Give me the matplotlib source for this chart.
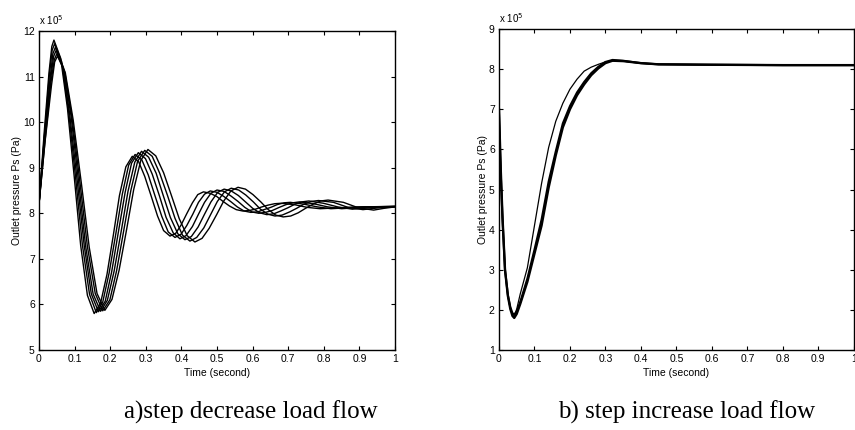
import numpy as np
import matplotlib.pyplot as plt

# ---- data (pressure in units of 1e5 Pa) ----
# a) step decrease load flow: six responses, (time, value) points along each curve
dec_t = [
    [0, 0.014, 0.028, 0.036, 0.042, 0.061, 0.080, 0.099, 0.117, 0.136, 0.155, 0.173, 0.191, 0.209, 0.226, 0.244,
     0.262, 0.280, 0.297, 0.315, 0.333, 0.350, 0.368, 0.384, 0.399, 0.415, 0.431, 0.446, 0.462, 0.480, 0.499,
     0.517, 0.535, 0.554, 0.572, 0.590, 0.608, 0.626, 0.644, 0.662, 0.680, 0.717, 0.753, 0.790, 0.895, 1.0],
    [0, 0.015, 0.029, 0.037, 0.044, 0.064, 0.083, 0.103, 0.122, 0.142, 0.161, 0.179, 0.197, 0.216, 0.234, 0.252,
     0.270, 0.289, 0.307, 0.326, 0.345, 0.363, 0.382, 0.399, 0.415, 0.432, 0.448, 0.465, 0.481, 0.500, 0.519,
     0.538, 0.557, 0.576, 0.595, 0.614, 0.632, 0.651, 0.669, 0.688, 0.706, 0.744, 0.782, 0.820, 0.910, 1.0],
    [0, 0.015, 0.031, 0.039, 0.046, 0.066, 0.086, 0.107, 0.127, 0.147, 0.167, 0.186, 0.204, 0.223, 0.242, 0.260,
     0.279, 0.299, 0.318, 0.338, 0.357, 0.377, 0.396, 0.413, 0.431, 0.448, 0.465, 0.483, 0.500, 0.520, 0.539,
     0.559, 0.578, 0.598, 0.617, 0.636, 0.655, 0.675, 0.694, 0.713, 0.732, 0.771, 0.811, 0.850, 0.930, 1.0],
    [0, 0.016, 0.032, 0.041, 0.048, 0.069, 0.090, 0.111, 0.131, 0.152, 0.173, 0.192, 0.211, 0.231, 0.250, 0.269,
     0.288, 0.308, 0.329, 0.349, 0.369, 0.390, 0.410, 0.428, 0.447, 0.465, 0.483, 0.502, 0.520, 0.540, 0.560,
     0.580, 0.600, 0.620, 0.640, 0.660, 0.679, 0.699, 0.719, 0.738, 0.758, 0.799, 0.839, 0.880, 0.940, 1.0],
    [0, 0.017, 0.033, 0.043, 0.050, 0.072, 0.093, 0.115, 0.136, 0.158, 0.179, 0.199, 0.218, 0.238, 0.258, 0.277,
     0.297, 0.318, 0.339, 0.361, 0.382, 0.403, 0.424, 0.443, 0.463, 0.482, 0.501, 0.521, 0.540, 0.561, 0.581,
     0.602, 0.622, 0.643, 0.663, 0.683, 0.704, 0.724, 0.744, 0.765, 0.785, 0.827, 0.868, 0.910, 0.955, 1.0],
    [0, 0.017, 0.035, 0.044, 0.052, 0.074, 0.096, 0.119, 0.141, 0.163, 0.185, 0.205, 0.225, 0.246, 0.266, 0.286,
     0.306, 0.328, 0.350, 0.372, 0.394, 0.416, 0.438, 0.458, 0.478, 0.499, 0.519, 0.539, 0.559, 0.580, 0.601,
     0.623, 0.644, 0.665, 0.686, 0.707, 0.728, 0.749, 0.770, 0.791, 0.812, 0.855, 0.897, 0.940, 0.970, 1.0],
]
dec_p = [
    [8.20, 9.71, 11.08, 11.66, 11.80, 11.40, 10.30, 8.80, 7.30, 6.20, 5.80, 6.03, 6.66, 7.53, 8.39, 9.02,
     9.25, 9.13, 8.81, 8.38, 7.94, 7.62, 7.50, 7.56, 7.74, 7.99, 8.23, 8.41, 8.47, 8.44, 8.37,
     8.26, 8.16, 8.08, 8.05, 8.06, 8.09, 8.14, 8.18, 8.21, 8.22, 8.19, 8.13, 8.10, 8.14, 8.15],
    [8.20, 9.68, 11.02, 11.58, 11.72, 11.32, 10.25, 8.77, 7.30, 6.22, 5.82, 6.05, 6.69, 7.56, 8.42, 9.06,
     9.29, 9.17, 8.84, 8.38, 7.93, 7.59, 7.47, 7.54, 7.73, 7.98, 8.24, 8.42, 8.49, 8.46, 8.37,
     8.26, 8.14, 8.05, 8.02, 8.03, 8.08, 8.13, 8.19, 8.23, 8.24, 8.20, 8.14, 8.10, 8.14, 8.15],
    [8.20, 9.64, 10.95, 11.50, 11.64, 11.25, 10.19, 8.74, 7.29, 6.23, 5.84, 6.07, 6.71, 7.59, 8.46, 9.10,
     9.33, 9.20, 8.86, 8.39, 7.91, 7.57, 7.44, 7.51, 7.71, 7.98, 8.24, 8.44, 8.51, 8.48, 8.38,
     8.26, 8.13, 8.03, 8.00, 8.02, 8.06, 8.13, 8.19, 8.23, 8.25, 8.21, 8.14, 8.10, 8.14, 8.15],
    [8.20, 9.62, 10.90, 11.44, 11.57, 11.19, 10.14, 8.71, 7.28, 6.23, 5.85, 6.09, 6.73, 7.61, 8.48, 9.12,
     9.36, 9.23, 8.88, 8.39, 7.91, 7.55, 7.42, 7.49, 7.70, 7.98, 8.25, 8.46, 8.53, 8.49, 8.39,
     8.25, 8.11, 8.01, 7.97, 7.99, 8.05, 8.12, 8.20, 8.25, 8.27, 8.22, 8.14, 8.09, 8.13, 8.15],
    [8.20, 9.59, 10.84, 11.37, 11.50, 11.12, 10.09, 8.68, 7.27, 6.24, 5.86, 6.10, 6.74, 7.62, 8.50, 9.14,
     9.38, 9.25, 8.88, 8.39, 7.89, 7.52, 7.39, 7.47, 7.68, 7.97, 8.26, 8.47, 8.55, 8.51, 8.40,
     8.25, 8.09, 7.98, 7.94, 7.96, 8.03, 8.11, 8.20, 8.26, 8.28, 8.24, 8.13, 8.08, 8.12, 8.14],
    [8.20, 9.57, 10.80, 11.32, 11.45, 11.08, 10.05, 8.66, 7.26, 6.24, 5.87, 6.11, 6.75, 7.64, 8.52, 9.16,
     9.40, 9.26, 8.89, 8.39, 7.88, 7.51, 7.37, 7.45, 7.67, 7.97, 8.27, 8.49, 8.57, 8.53, 8.41,
     8.25, 8.08, 7.96, 7.92, 7.94, 8.01, 8.11, 8.20, 8.27, 8.29, 8.24, 8.12, 8.07, 8.11, 8.14],
]

# b) step increase load flow: one thin early curve and a thick pair
inc_t = [0, 0.005, 0.010, 0.017, 0.025, 0.032, 0.038, 0.043, 0.050, 0.060, 0.080, 0.100, 0.120, 0.140, 0.160,
         0.180, 0.200, 0.220, 0.240, 0.260, 0.280, 0.300, 0.320, 0.350, 0.400, 0.450, 0.600, 0.800, 1.0]
inc_thin = [7.00, 5.50, 4.30, 3.00, 2.35, 2.03, 1.88, 1.86, 2.02, 2.40, 3.05, 4.10, 5.15, 6.05, 6.70,
            7.15, 7.50, 7.75, 7.95, 8.05, 8.12, 8.18, 8.21, 8.20, 8.15, 8.12, 8.11, 8.10, 8.10]
inc_thick1 = [7.00, 5.50, 4.30, 3.00, 2.35, 2.02, 1.85, 1.80, 1.90, 2.15, 2.70, 3.40, 4.10, 5.05, 5.85,
              6.55, 7.00, 7.35, 7.62, 7.85, 8.02, 8.15, 8.21, 8.20, 8.15, 8.12, 8.11, 8.10, 8.10]
inc_thick2 = [6.90, 5.40, 4.25, 3.00, 2.38, 2.07, 1.92, 1.88, 1.96, 2.20, 2.78, 3.50, 4.25, 5.20, 5.95,
              6.65, 7.08, 7.42, 7.68, 7.90, 8.06, 8.18, 8.23, 8.21, 8.15, 8.12, 8.11, 8.10, 8.10]

x_ticks = np.round(np.arange(0, 1.01, 0.1), 1)
x_labels = ['0', '0.1', '0.2', '0.3', '0.4', '0.5', '0.6', '0.7', '0.8', '0.9', '1']

plt.rcParams['font.family'] = ['Liberation Sans', 'DejaVu Sans']
plt.rcParams['xtick.direction'] = 'in'
plt.rcParams['ytick.direction'] = 'in'
plt.rcParams['xtick.top'] = True
plt.rcParams['ytick.right'] = True

fig = plt.figure(figsize=(8.55, 4.3), dpi=100)
ax1 = fig.add_axes([0.0456, 0.186, 0.4164, 0.742])
ax2 = fig.add_axes([0.5836, 0.186, 0.415, 0.7465])

for t, p in zip(dec_t, dec_p):
    ax1.plot(t, p, color='black', lw=1.0)

ax2.plot(inc_t, inc_thin, color='black', lw=0.9)
ax2.plot(inc_t, inc_thick1, color='black', lw=1.7)
ax2.plot(inc_t, inc_thick2, color='black', lw=1.5)

def style(ax, ylo, yhi):
    ax.set_xlim(0, 1)
    ax.set_ylim(ylo, yhi)
    ax.set_xticks(x_ticks)
    ax.set_xticklabels(x_labels)
    ax.set_yticks(range(ylo, yhi + 1))
    ax.tick_params(labelsize=7.5, length=3, width=0.8, pad=3)
    for s in ax.spines.values():
        s.set_linewidth(1.0)
        s.set_color('black')
    ax.set_xlabel('Time (second)', fontsize=7.5, labelpad=3)
    ax.set_ylabel('Outlet pressure Ps (Pa)', fontsize=7.5, labelpad=1)
    ax.text(0.0, 1.012, r'x 10$^5$', transform=ax.transAxes, fontsize=7, ha='left', va='bottom')

style(ax1, 5, 12)
style(ax2, 1, 9)

fig.text(251 / 855, 1 - 412 / 430, 'a)step decrease load flow', family='Liberation Serif',
         fontsize=18, ha='center', va='center')
fig.text(687 / 855, 1 - 412 / 430, 'b) step increase load flow', family='Liberation Serif',
         fontsize=18, ha='center', va='center')

fig.savefig('out.png', dpi=100)
